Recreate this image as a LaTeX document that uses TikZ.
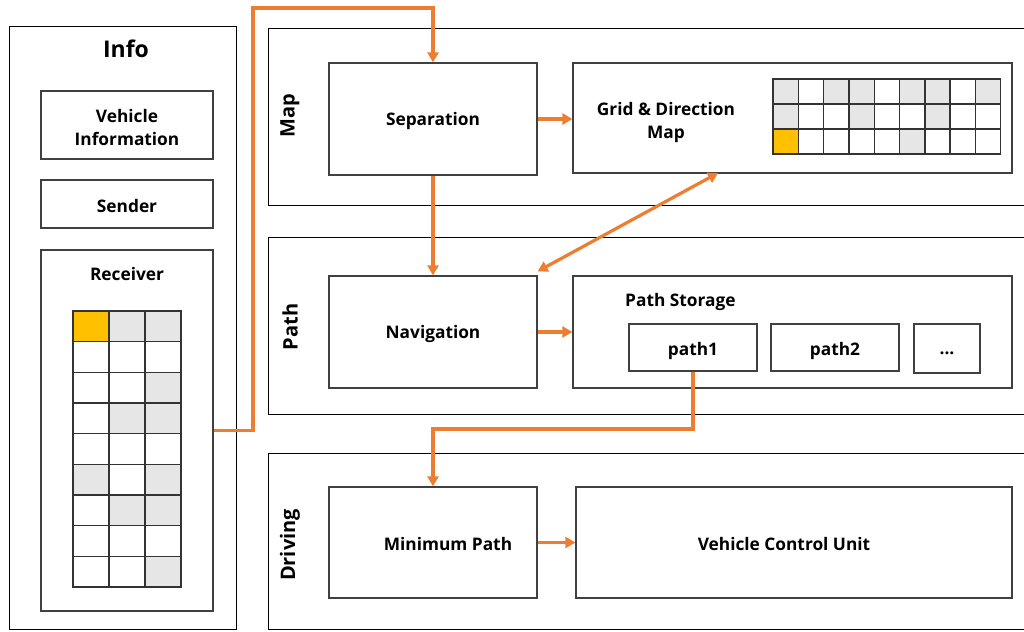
\documentclass[tikz,border=0pt]{standalone}
\usepackage{fontspec}
\setmainfont{Open Sans}
\usetikzlibrary{arrows.meta,calc}
\definecolor{flow}{HTML}{ED7D31}
\definecolor{cellg}{HTML}{E6E6E6}
\definecolor{cello}{HTML}{FFC000}
\definecolor{cellw}{HTML}{FFFFFF}
\definecolor{edge}{HTML}{404040}
\tikzset{
  panel/.style={draw=black, line width=1pt},
  box/.style={draw=edge, line width=1.3pt, fill=white, inner sep=0pt},
  lbl/.style={font=\bfseries\fontsize{17.3}{22.5}\selectfont, align=center, inner sep=0pt, yshift=-1.5pt},
  side/.style={font=\bfseries\fontsize{20}{24}\selectfont, rotate=90, inner sep=0pt},
  arr/.style={draw=flow, line width=3.2pt, -{Triangle[length=10pt,width=11pt]}},
  arrtwo/.style={draw=flow, line width=3.2pt, {Triangle[length=10pt,width=11pt]}-{Triangle[length=10pt,width=11pt]}},
  cell/.style={draw=black!80, line width=1.4pt}
}
\begin{document}
\begin{tikzpicture}[x=1pt,y=-1pt]
\useasboundingbox (0,0) rectangle (1024,631);
\clip (0,0) rectangle (1024,631);
\fill[white] (0,0) rectangle (1024,631);

% ---------- Info column ----------
\node[panel, minimum width=227, minimum height=602, inner sep=0pt] (info) at (122.5,328) {};
\node[font=\bfseries\fontsize{23}{28}\selectfont, inner sep=0pt] (infot) at (126,49) {Info};
\node[box, minimum width=172, minimum height=68] (vinfo) at (127,125) {};
\node[lbl] (vinfot) at (127,126) {Vehicle\\Information};
\node[box, minimum width=172, minimum height=48] (send) at (127,204) {};
\node[lbl] (sendt) at (127,205) {Sender};
\node[box, minimum width=172, minimum height=361] (recv) at (127,430.5) {};
\node[lbl] (recvt) at (127,273) {Receiver};

% receiver grid: 3 columns x 9 rows (g = gray, o = gold, w = white)
\foreach \r/\row in {0/{o,g,g},1/{w,w,w},2/{w,w,g},3/{w,g,g},4/{w,w,w},5/{g,w,g},6/{w,g,g},7/{w,w,w},8/{w,w,g}}{
  \foreach \c [count=\i from 0] in \row {
    \pgfmathsetmacro{\xa}{73+36*\i}
    \pgfmathsetmacro{\ya}{311+30.67*\r}
    \filldraw[cell, fill=cell\c] (\xa,\ya) rectangle ++(36,30.67);
  }
}

% ---------- Map panel ----------
\node[panel, minimum width=780, minimum height=177, inner sep=0pt, anchor=north west] (map) at (268,28) {};
\node[side] (mapt) at (290,116) {Map};
\node[box, minimum width=208, minimum height=112] (sep) at (433,119) {};
\node[lbl] (sept) at (433,120) {Separation};
\node[box, minimum width=439, minimum height=110] (gdm) at (792.5,118) {};
\node[lbl] (gdmt) at (666,121) {Grid \& Direction\\Map};

% direction map grid: 9 columns x 3 rows
\foreach \r/\row in {0/{g,w,g,g,w,g,g,w,g},1/{g,w,w,g,w,w,g,w,w},2/{o,w,w,w,w,g,w,w,w}}{
  \foreach \c [count=\i from 0] in \row {
    \pgfmathsetmacro{\xa}{773+25.3*\i}
    \pgfmathsetmacro{\ya}{79+25*\r}
    \filldraw[cell, fill=cell\c] (\xa,\ya) rectangle ++(25.3,25);
  }
}

% ---------- Path panel ----------
\node[panel, minimum width=780, minimum height=177, inner sep=0pt, anchor=north west] (pathp) at (268,237) {};
\node[side] (patht) at (290,327) {Path};
\node[box, minimum width=208, minimum height=112] (nav) at (433,332) {};
\node[lbl] (navt) at (433,333) {Navigation};
\node[box, minimum width=439, minimum height=112] (store) at (792.5,332) {};
\node[lbl, anchor=west] (storet) at (625,301) {Path Storage};
\node[box, minimum width=128, minimum height=47] (p1) at (693,347.5) {};
\node[lbl] (p1t) at (693,350) {path1};
\node[box, minimum width=128, minimum height=47] (p2) at (835,347.5) {};
\node[lbl] (p2t) at (835,350) {path2};
\node[box, minimum width=66, minimum height=49] (pdots) at (947,348.5) {};
\node[lbl] (pdotst) at (947,352) {...};

% ---------- Driving panel ----------
\node[panel, minimum width=780, minimum height=176, inner sep=0pt, anchor=north west] (drv) at (268,453) {};
\node[side] (drvt) at (290,545) {Driving};
\node[box, minimum width=208, minimum height=111] (minp) at (433,542.5) {};
\node[lbl] (minpt) at (448,543) {Minimum Path};
\node[box, minimum width=436, minimum height=111] (vcu) at (794,542.5) {};
\node[lbl] (vcut) at (784,543) {Vehicle Control Unit};

% ---------- connectors ----------
\coordinate (upbend) at (253,8);
\coordinate (gdmfoot) at (718,173);
\coordinate (downbend) at (693,429);
\draw[arr] (recv.east) -| (upbend) -| (sep.north);
\draw[arr] (sep.east) -- (gdm.west |- sep.east);
\draw[arr] (sep.south) -- (nav.north);
\draw[arrtwo] (gdmfoot) -- ($(nav.north east)+(0,-4)$);
\draw[arr] (nav.east) -- (store.west |- nav.east);
\draw[arr] (p1.south) -- (downbend) -| (minp.north);
\draw[arr] (minp.east) -- (vcu.west |- minp.east);
\end{tikzpicture}
\end{document}
